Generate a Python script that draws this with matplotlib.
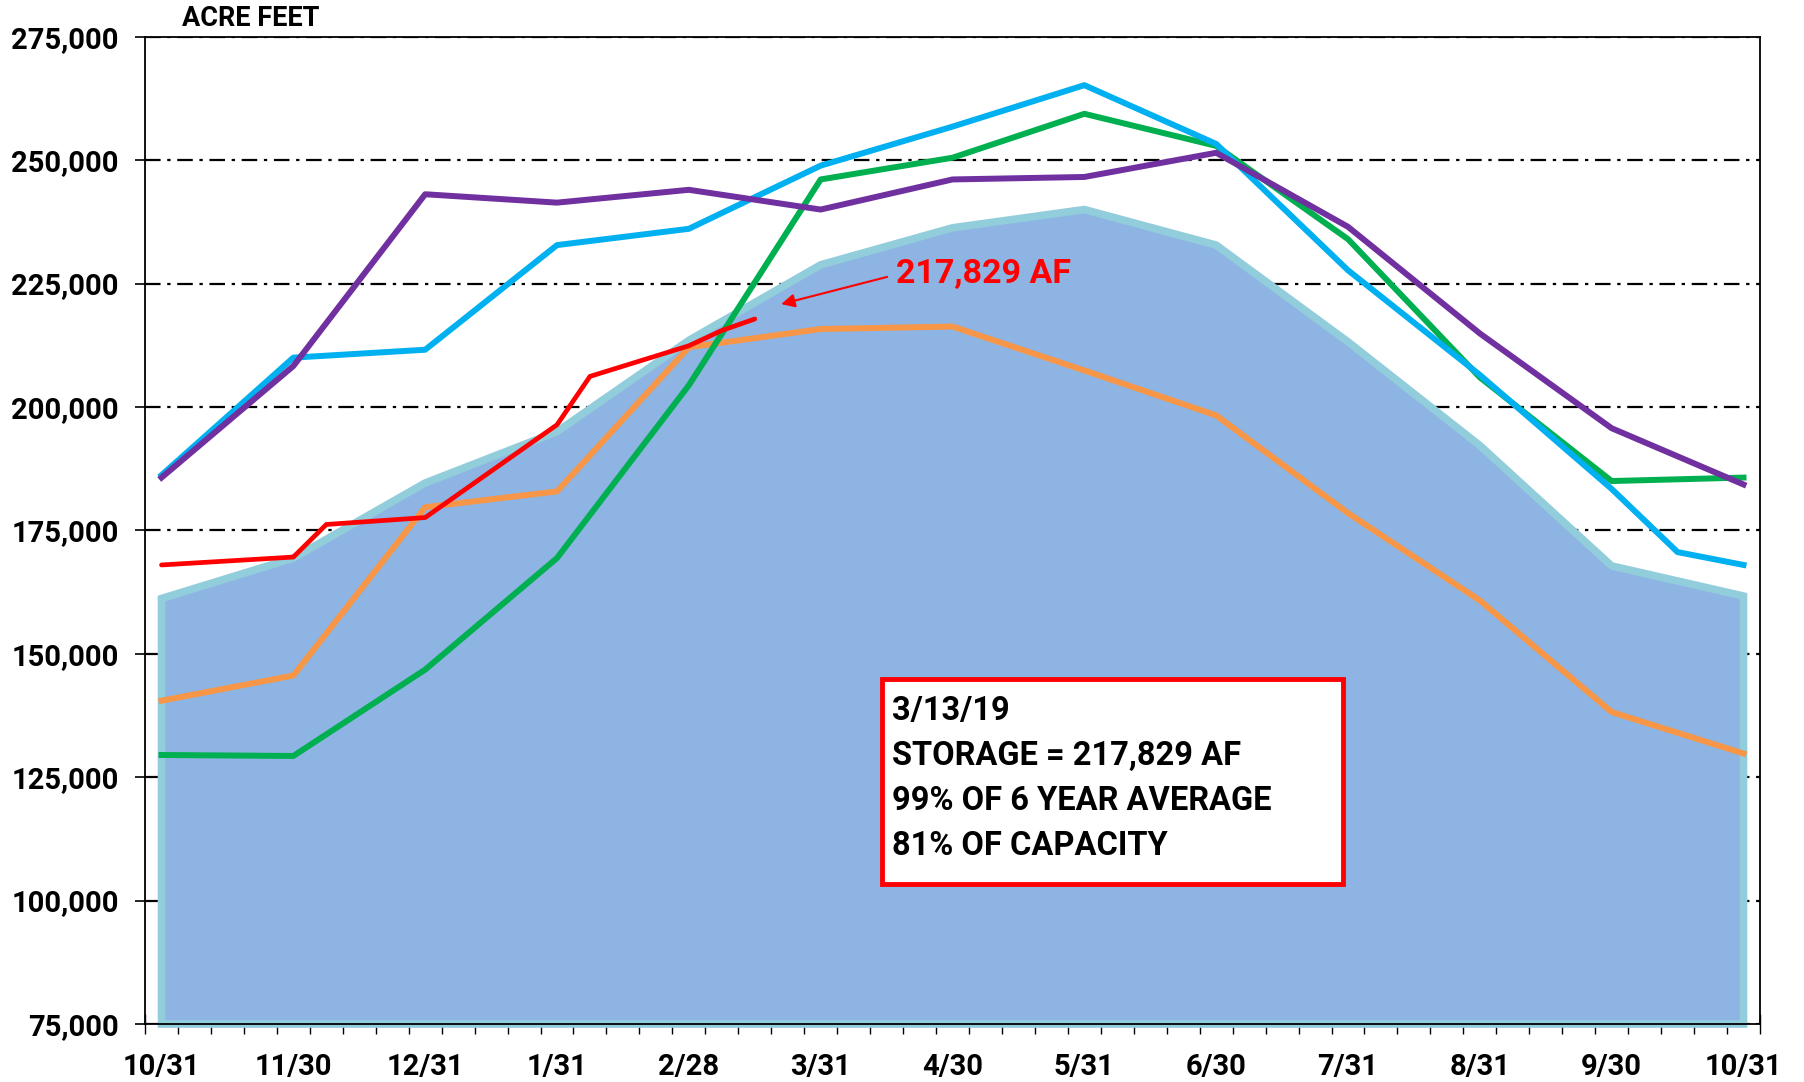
import matplotlib
matplotlib.use("Agg")
import matplotlib.pyplot as plt
from matplotlib.patches import Rectangle
from matplotlib.ticker import FuncFormatter

plt.rcParams["font.family"] = ["Roboto", "DejaVu Sans"]
plt.rcParams["font.weight"] = "bold"

# Категории: недели, подписи только по концам месяцев (каждая 4-я)
month_labels = ["10/31", "11/30", "12/31", "1/31", "2/28", "3/31", "4/30",
                "5/31", "6/30", "7/31", "8/31", "9/30", "10/31"]
month_pos = [0, 4, 8, 12, 16, 20, 24, 28, 32, 36, 40, 44, 48]

# Средний объём (заливка)
avg_storage = [161200, 169400, 184600, 195000, 213500, 228800, 236300,
               240000, 232800, 213200, 192200, 167800, 161700]

purple_vals = [185700, 208300, 243100, 241400, 244000, 240000, 246100,
               246600, 251500, 236500, 214900, 195700, 184300]

cyan_pos = [0, 4, 8, 12, 16, 20, 24, 28, 32, 36, 40, 44, 46, 48]
cyan_vals = [186200, 210000, 211600, 232800, 236100, 248900, 256800,
             265200, 253300, 227700, 206500, 183400, 170600, 168000]

green_vals = [129500, 129300, 146800, 169400, 204400, 246100, 250500,
              259400, 252900, 234000, 206000, 185000, 185700]

orange_vals = [140500, 145600, 179700, 182900, 212100, 215800, 216300,
               207400, 198300, 178500, 160800, 138200, 129800]

# Текущий год (до 3/13/19)
red_pos = [0, 4, 5, 8, 12, 13, 16, 17, 18]
red_vals = [168000, 169600, 176200, 177600, 196400, 206200, 212400,
            215500, 217829]

y_ticks = list(range(75000, 275001, 25000))

fig = plt.figure(figsize=(18.04, 10.82), dpi=100)
ax = fig.add_axes([0.0804, 0.0536, 0.8952, 0.9124])

# Заливка среднего с контуром
poly_x = [month_pos[0]] + month_pos + [month_pos[-1]]
poly_y = [75000] + avg_storage + [75000]
ax.fill(poly_x, poly_y, facecolor="#8EB4E3", edgecolor="#92CDDC",
        linewidth=5.5, zorder=2, clip_on=False, joinstyle="miter")

ax.plot(month_pos, orange_vals, color="#F79646", lw=4.3, zorder=3)
ax.plot(month_pos, green_vals, color="#00B050", lw=4.3, zorder=3)
ax.plot(cyan_pos, cyan_vals, color="#00B0F0", lw=4.3, zorder=3)
ax.plot(month_pos, purple_vals, color="#7030A0", lw=4.3, zorder=3)
ax.plot(red_pos, red_vals, color="#FF0000", lw=3.4, zorder=4,
        solid_capstyle="round")

ax.set_xlim(-0.5, 48.5)
ax.set_ylim(75000, 275000)

ax.set_yticks(y_ticks)
ax.yaxis.set_major_formatter(FuncFormatter(lambda v, p: f"{int(v):,}"))
ax.set_xticks(month_pos)
ax.set_xticklabels(month_labels)
ax.set_xticks([i - 0.5 for i in range(50)], minor=True)

ax.tick_params(axis="y", direction="out", length=7, width=1.2,
               labelsize=21, pad=12)
ax.tick_params(axis="x", which="major", length=0, labelsize=21, pad=21)
ax.tick_params(axis="x", which="minor", direction="inout", length=15,
               width=1.0)

ax.yaxis.grid(True, color="black", lw=1.6, linestyle=(0, (7, 3, 1.5, 3)),
              zorder=1)
ax.set_axisbelow(True)
for s in ax.spines.values():
    s.set_color("black")
    s.set_linewidth(1.3)
    s.set_zorder(5)

fig.text(0.1009, 0.983, "ACRE FEET", fontsize=19.5, fontweight="bold",
         ha="left", va="center")

# Подпись текущего значения со стрелкой
ax.annotate("", xy=(18.72, 220700), xytext=(22.1, 226500),
            arrowprops=dict(arrowstyle="-|>", color="#FF0000", lw=1.5,
                            mutation_scale=20), zorder=6)
ax.text(22.28, 227000, "217,829 AF", color="#FF0000", fontsize=24.5,
        fontweight="bold", ha="left", va="center")

# Рамка с итогами
box = Rectangle((0.4566, 0.1422), 0.2854, 0.2075, transform=ax.transAxes,
                facecolor="white", edgecolor="#FF0000", lw=3.5, zorder=6)
ax.add_patch(box)
box_lines = ["3/13/19", "STORAGE = 217,829 AF", "99% OF 6 YEAR AVERAGE",
             "81% OF CAPACITY"]
for i, line in enumerate(box_lines):
    ax.text(0.4623, 0.3170 - i * 0.0455, line, transform=ax.transAxes,
            fontsize=23.5, fontweight="bold", ha="left", va="center", zorder=7)

fig.savefig("out.png", dpi=100)
